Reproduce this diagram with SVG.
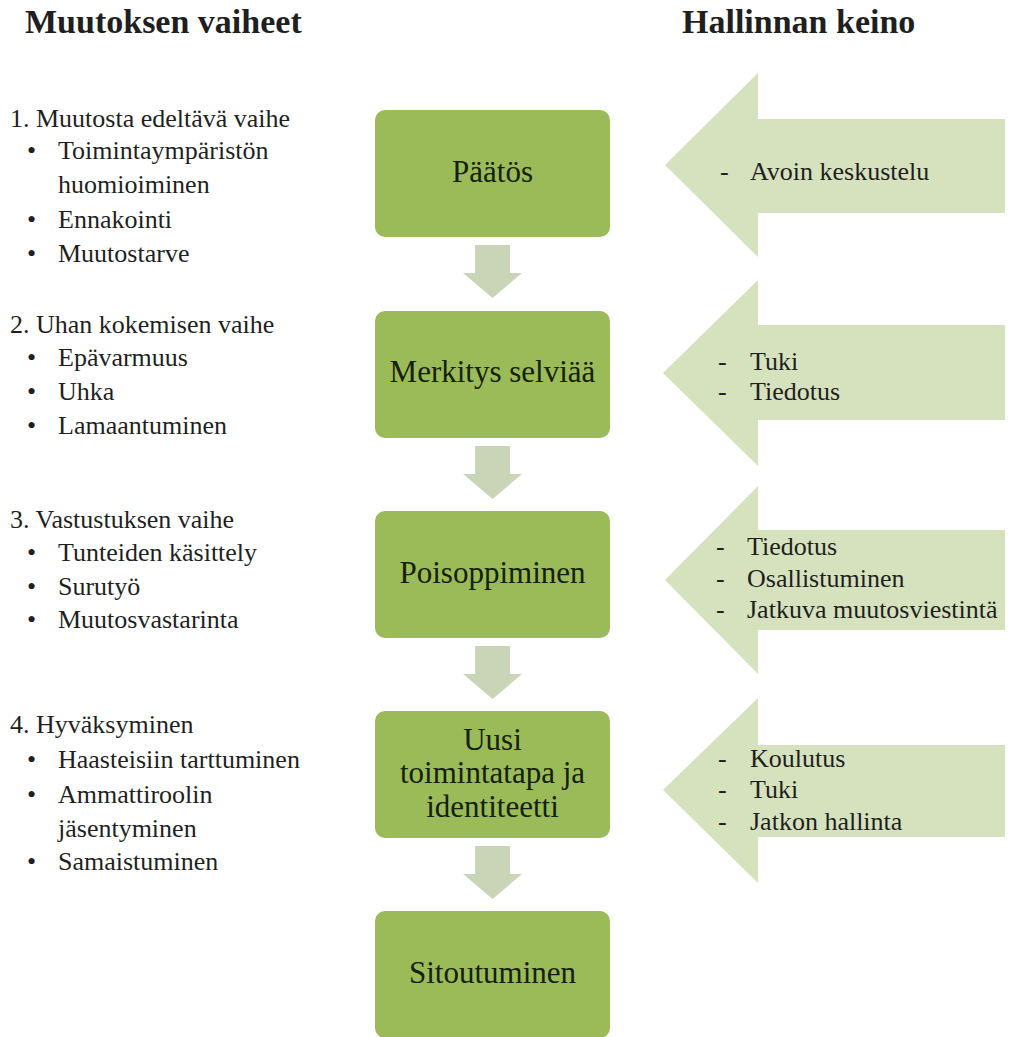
<svg xmlns="http://www.w3.org/2000/svg" width="1009" height="1037" viewBox="0 0 1009 1037">
  <style>
    text { font-family: "Liberation Serif", "Times New Roman", "DejaVu Serif", serif; fill: #1f1f1f; }
    .head { font-size: 34px; font-weight: bold; }
    .list { font-size: 26px; }
    .box { fill: #9bbb59; }
    .boxtext { font-size: 31px; text-anchor: middle; fill: #15200a; }
    .down { fill: #c9d5b6; }
    .callout { fill: #d6e2bd; }
    .ctext { font-size: 26px; }
  </style>

  <rect width="1009" height="1037" fill="#ffffff"/>

  <!-- column headings -->
  <text class="head" x="25" y="33">Muutoksen vaiheet</text>
  <text class="head" x="682" y="33">Hallinnan keino</text>

  <!-- phases of change, left column -->
  <g id="phase1">
    <text class="list" x="10" y="127">1. Muutosta edeltävä vaihe</text>
    <text class="list" x="27" y="159">•</text><text class="list" x="58" y="159">Toimintaympäristön</text>
    <text class="list" x="58" y="193">huomioiminen</text>
    <text class="list" x="27" y="228">•</text><text class="list" x="58" y="228">Ennakointi</text>
    <text class="list" x="27" y="262">•</text><text class="list" x="58" y="262">Muutostarve</text>
  </g>
  <g id="phase2">
    <text class="list" x="10" y="333">2. Uhan kokemisen vaihe</text>
    <text class="list" x="27" y="366">•</text><text class="list" x="58" y="366">Epävarmuus</text>
    <text class="list" x="27" y="400">•</text><text class="list" x="58" y="400">Uhka</text>
    <text class="list" x="27" y="434">•</text><text class="list" x="58" y="434">Lamaantuminen</text>
  </g>
  <g id="phase3">
    <text class="list" x="10" y="528">3. Vastustuksen vaihe</text>
    <text class="list" x="27" y="561">•</text><text class="list" x="58" y="561">Tunteiden käsittely</text>
    <text class="list" x="27" y="595">•</text><text class="list" x="58" y="595">Surutyö</text>
    <text class="list" x="27" y="628">•</text><text class="list" x="58" y="628">Muutosvastarinta</text>
  </g>
  <g id="phase4">
    <text class="list" x="10" y="733">4. Hyväksyminen</text>
    <text class="list" x="27" y="768">•</text><text class="list" x="58" y="768">Haasteisiin tarttuminen</text>
    <text class="list" x="27" y="803">•</text><text class="list" x="58" y="803">Ammattiroolin</text>
    <text class="list" x="58" y="837">jäsentyminen</text>
    <text class="list" x="27" y="870">•</text><text class="list" x="58" y="870">Samaistuminen</text>
  </g>

  <!-- management means: left-pointing block arrows -->
  <g id="means1">
    <polygon class="callout" points="665,165 758,73 758,119 1005,119 1005,213 758,213 758,257"/>
    <text class="ctext" x="720" y="180">-</text><text class="ctext" x="750" y="180">Avoin keskustelu</text>
  </g>
  <g id="means2">
    <polygon class="callout" points="663,373 758,280 758,325 1005,325 1005,420 758,420 758,466"/>
    <text class="ctext" x="718" y="370">-</text><text class="ctext" x="750" y="370">Tuki</text>
    <text class="ctext" x="718" y="400">-</text><text class="ctext" x="750" y="400">Tiedotus</text>
  </g>
  <g id="means3">
    <polygon class="callout" points="665,580 758,486 758,530 1005,530 1005,630 758,630 758,674"/>
    <text class="ctext" x="716" y="555">-</text><text class="ctext" x="747" y="555">Tiedotus</text>
    <text class="ctext" x="716" y="587">-</text><text class="ctext" x="747" y="587">Osallistuminen</text>
    <text class="ctext" x="716" y="618">-</text><text class="ctext" x="747" y="618">Jatkuva muutosviestintä</text>
  </g>
  <g id="means4">
    <polygon class="callout" points="663,790 758,698 758,745 1005,745 1005,837 758,837 758,883"/>
    <text class="ctext" x="718" y="767">-</text><text class="ctext" x="750" y="767">Koulutus</text>
    <text class="ctext" x="718" y="798">-</text><text class="ctext" x="750" y="798">Tuki</text>
    <text class="ctext" x="718" y="830">-</text><text class="ctext" x="750" y="830">Jatkon hallinta</text>
  </g>

  <!-- process steps -->
  <g id="step-paatos">
    <rect class="box" x="375" y="110" width="235" height="127" rx="10"/>
    <text class="boxtext" x="492.5" y="182">Päätös</text>
  </g>
  <g id="step-merkitys">
    <rect class="box" x="375" y="311" width="235" height="127" rx="10"/>
    <text class="boxtext" x="492.5" y="382">Merkitys selviää</text>
  </g>
  <g id="step-poisoppiminen">
    <rect class="box" x="375" y="511" width="235" height="127" rx="10"/>
    <text class="boxtext" x="492.5" y="583">Poisoppiminen</text>
  </g>
  <g id="step-uusi">
    <rect class="box" x="375" y="711" width="235" height="127" rx="10"/>
    <text class="boxtext" x="492.5" y="750">Uusi</text>
    <text class="boxtext" x="492.5" y="783">toimintatapa ja</text>
    <text class="boxtext" x="492.5" y="817">identiteetti</text>
  </g>
  <g id="step-sitoutuminen">
    <rect class="box" x="375" y="911" width="235" height="127" rx="10"/>
    <text class="boxtext" x="492.5" y="983">Sitoutuminen</text>
  </g>

  <!-- connectors between steps -->
  <g id="connectors">
    <polygon class="down" points="475,245 510,245 510,273 522,273 492.5,298 463,273 475,273"/>
    <polygon class="down" points="475,446 510,446 510,474 522,474 492.5,499 463,474 475,474"/>
    <polygon class="down" points="475,646 510,646 510,674 522,674 492.5,699 463,674 475,674"/>
    <polygon class="down" points="475,846 510,846 510,874 522,874 492.5,899 463,874 475,874"/>
  </g>
</svg>
